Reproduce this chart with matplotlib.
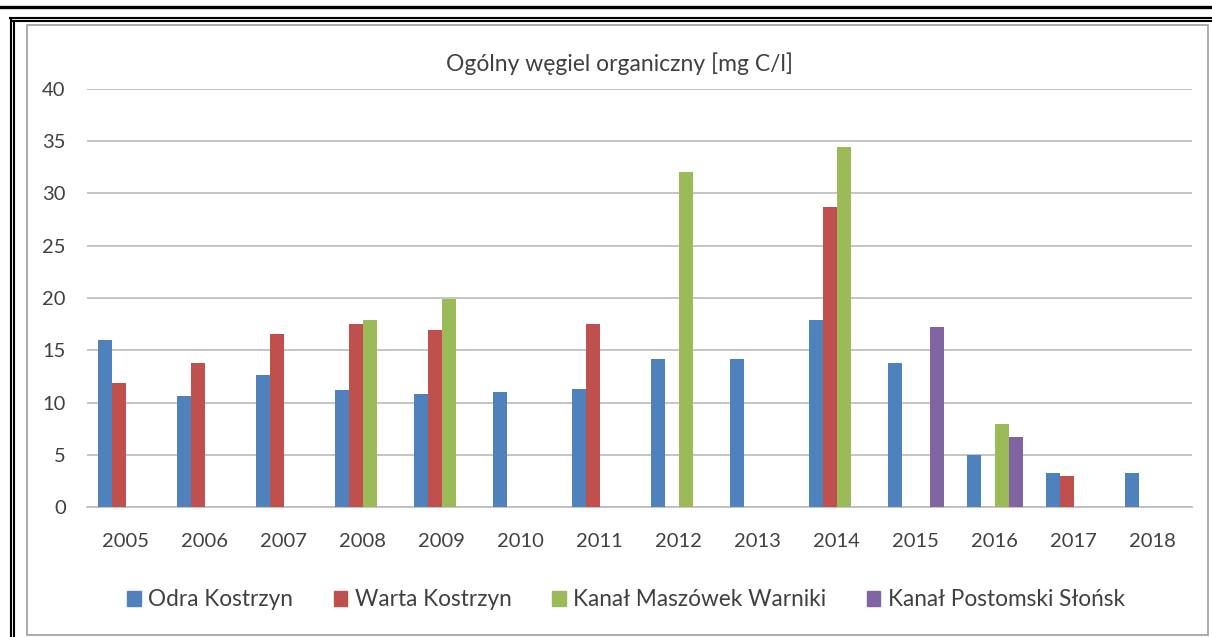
import numpy as np
import matplotlib
matplotlib.use("Agg")
import matplotlib.pyplot as plt
from matplotlib.lines import Line2D
from matplotlib.patches import Rectangle

plt.rcParams['font.family'] = ['Lato', 'DejaVu Sans']

# Data
years = ['2005', '2006', '2007', '2008', '2009', '2010', '2011',
         '2012', '2013', '2014', '2015', '2016', '2017', '2018']
nan = np.nan
odra = [16.0, 10.6, 12.6, 11.2, 10.8, 11.05, 11.3, 14.2, 14.2, 17.9, 13.8, 5.0, 3.3, 3.3]
warta = [11.9, 13.8, 16.6, 17.5, 16.9, nan, 17.5, nan, nan, 28.7, nan, nan, 3.0, nan]
maszowek = [nan, nan, nan, 17.9, 19.9, nan, nan, 32.1, nan, 34.45, nan, 7.9, nan, nan]
postomski = [nan, nan, nan, nan, nan, nan, nan, nan, nan, nan, 17.2, 6.7, nan, nan]

series_names = ['Odra Kostrzyn', 'Warta Kostrzyn', 'Kanał Maszówek Warniki', 'Kanał Postomski Słońsk']
colors = ['#4F81BD', '#C0504D', '#9BBB59', '#8064A2']
title = 'Ogólny węgiel organiczny [mg C/l]'
text_col = '#404040'

W, H = 1212, 637
fig = plt.figure(figsize=(W / 100, H / 100), dpi=100)

# page frame (scanned document border)
def hline(y, x0, x1, lw, c='black'):
    fig.add_artist(Line2D([x0 / W, x1 / W], [1 - y / H, 1 - y / H], lw=lw, color=c))

def vline(x, y0, y1, lw, c='black'):
    fig.add_artist(Line2D([x / W, x / W], [1 - y0 / H, 1 - y1 / H], lw=lw, color=c))

hline(6.5, 0, W, 2.4)
hline(17.5, 10, W, 1.5)
hline(21, 13, W, 1.5)
vline(11, 17.5, H, 1.5)
vline(14, 21, H, 1.5)
fig.add_artist(Rectangle((27 / W, 1 - 635 / H), (1208 - 27) / W, (635 - 25) / H,
                         transform=fig.transFigure, fill=False, ec='#a6a6a6', lw=1.3))

ax = fig.add_axes([86.5 / W, 1 - 507 / H, (1192 - 86.5) / W, (507 - 89) / H])

x = np.arange(len(years))
w = 14 / 79
all_series = [odra, warta, maszowek, postomski]
for i, (vals, name, c) in enumerate(zip(all_series, series_names, colors)):
    ax.bar(x + (i - 1.5) * w, vals, width=w, color=c, label=name, zorder=3)

ax.set_xlim(-0.5, len(years) - 0.5)
ax.set_ylim(0, 40)
ax.set_yticks(range(0, 41, 5))
ax.set_xticks(x)
ax.set_xticklabels(years)
ax.grid(axis='y', color='#bfbfbf', lw=1.3, zorder=0)
for s in ['left', 'right', 'top']:
    ax.spines[s].set_visible(False)
ax.spines['bottom'].set_color('#bfbfbf')
ax.spines['bottom'].set_linewidth(1.3)
ax.tick_params(axis='both', length=0, labelsize=14.5, labelcolor=text_col)
ax.tick_params(axis='y', pad=15)
ax.tick_params(axis='x', pad=19)

fig.text(620 / W, 1 - 64 / H, title, ha='center', va='center', fontsize=16.5, color=text_col)

handles = [Rectangle((0, 0), 1, 1, color=c) for c in colors]
fig.legend(handles, series_names, loc='center', bbox_to_anchor=(626 / W, 1 - 600 / H),
           ncol=4, frameon=False, fontsize=16.3, handlelength=0.6, handleheight=0.6,
           handletextpad=0.32, columnspacing=1.8, labelcolor=text_col)

fig.savefig('out.png', dpi=100)
